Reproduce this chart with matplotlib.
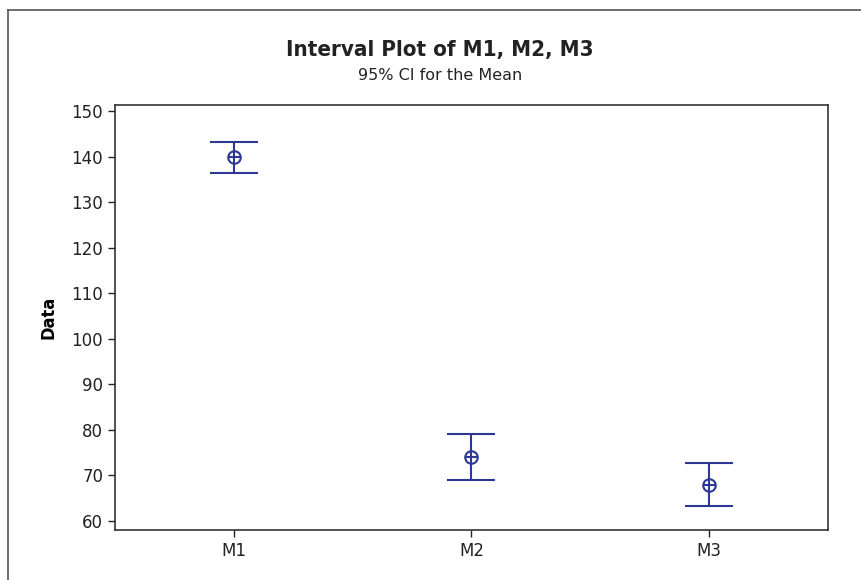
import matplotlib
matplotlib.use("Agg")
import matplotlib.pyplot as plt
from matplotlib.lines import Line2D

categories = ["M1", "M2", "M3"]
means = [139.9, 74.1, 67.9]
upper = [143.2, 79.2, 72.8]
lower = [136.5, 68.9, 63.2]

color = "#2c3796"
fig = plt.figure(figsize=(8.62, 5.8), dpi=100)
plt.rcParams['font.family'] = ['DejaVu Sans']

ax = fig.add_axes([115/862, 50/580, 713/862, 425/580])
x = list(range(1, len(categories) + 1))
yerr = [[m - l for m, l in zip(means, lower)], [u - m for m, u in zip(means, upper)]]
ax.errorbar(x, means, yerr=yerr, fmt='none', ecolor=color, elinewidth=1.5,
            capsize=17, capthick=1.5)
ax.plot(x, means, 'o', ms=9, mfc='white', mec=color, mew=1.5, linestyle='none')
ax.plot(x, means, '+', ms=9, color=color, mew=1.5, linestyle='none')

ax.set_xlim(0.5, 3.5)
ax.set_ylim(58.0, 151.4)
ax.set_yticks(range(60, 151, 10))
ax.set_xticks(x)
ax.set_xticklabels(categories)
ax.tick_params(axis='both', direction='out', length=5, width=1, labelsize=12, colors='#222222')
for s in ax.spines.values():
    s.set_linewidth(1.2)
    s.set_color('#333333')
ax.set_ylabel("Data", fontsize=13, fontweight='bold', labelpad=10, stretch='condensed')

fig.text(440/862, 1 - 50/580, "Interval Plot of M1, M2, M3", ha='center', va='center',
         fontsize=16, fontweight='bold', color='#222222', stretch='condensed')
fig.text(440/862, 1 - 76/580, "95% CI for the Mean", ha='center', va='center',
         fontsize=11.5, color='#222222')

# outer frame
fig.add_artist(Line2D([8/862, 8/862], [0, 1 - 10/580], transform=fig.transFigure, color='#555555', lw=1.2))
fig.add_artist(Line2D([8/862, 1], [1 - 10/580, 1 - 10/580], transform=fig.transFigure, color='#555555', lw=1.2))

fig.savefig("out.png", dpi=100)
